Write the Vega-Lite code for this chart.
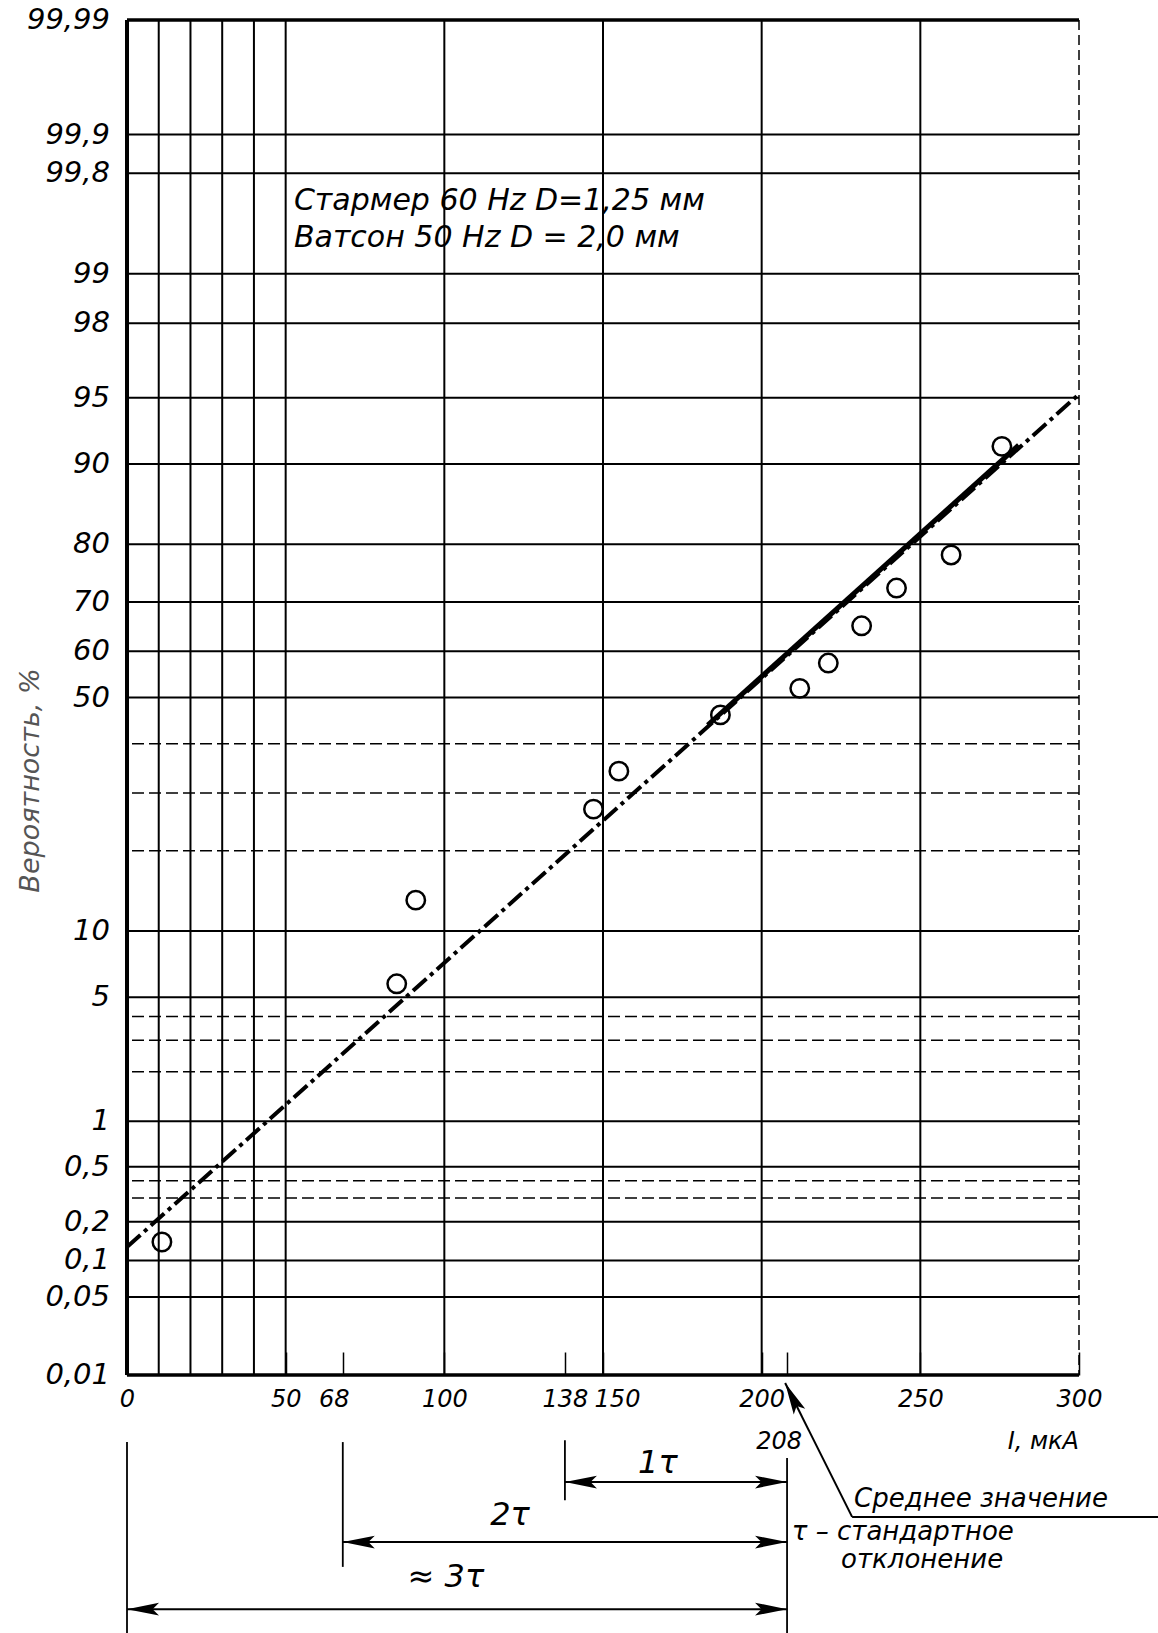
{
  "$schema": "https://vega.github.io/schema/vega-lite/v6.json",
  "width": 952,
  "height": 1355,
  "autosize": {"type": "none"},
  "padding": {"left": 127, "top": 20, "right": 79, "bottom": 258},
  "background": "white",
  "config": {
    "view": {"stroke": null},
    "font": "DejaVu Sans",
    "text": {"font": "DejaVu Sans", "fontStyle": "italic", "color": "black"}
  },
  "datasets": {
    "xGrid": [{"I": 0}, {"I": 10}, {"I": 20}, {"I": 30}, {"I": 40}, {"I": 50}, {"I": 100}, {"I": 150}, {"I": 200}, {"I": 250}, {"I": 300}],
    "yMajor": [
      {"p": 99.99, "label": "99,99"}, {"p": 99.9, "label": "99,9"}, {"p": 99.8, "label": "99,8"},
      {"p": 99, "label": "99"}, {"p": 98, "label": "98"}, {"p": 95, "label": "95"},
      {"p": 90, "label": "90"}, {"p": 80, "label": "80"}, {"p": 70, "label": "70"},
      {"p": 60, "label": "60"}, {"p": 50, "label": "50"}, {"p": 10, "label": "10"},
      {"p": 5, "label": "5"}, {"p": 1, "label": "1"}, {"p": 0.5, "label": "0,5"},
      {"p": 0.2, "label": "0,2"}, {"p": 0.1, "label": "0,1"}, {"p": 0.05, "label": "0,05"},
      {"p": 0.01, "label": "0,01"}
    ],
    "yMinor": [{"p": 40}, {"p": 30}, {"p": 20}, {"p": 4}, {"p": 3}, {"p": 2}, {"p": 0.4}, {"p": 0.3}],
    "points": [
      {"I": 11, "p": 0.14}, {"I": 85, "p": 5.8}, {"I": 91, "p": 13.3}, {"I": 147, "p": 27},
      {"I": 155, "p": 34.3}, {"I": 187, "p": 46.2}, {"I": 212, "p": 52}, {"I": 221, "p": 57.5},
      {"I": 231.5, "p": 65.3}, {"I": 242.5, "p": 72.6}, {"I": 259.7, "p": 78.3}, {"I": 275.7, "p": 91.6}
    ],
    "fit": [{"I": 0, "p": 0.128}, {"I": 300, "p": 95.2}],
    "fitSolid": [{"I": 183, "p": 44.0}, {"I": 281, "p": 91.7}],
    "legendText": [
      {"I": 52.6, "p": 99.68, "text": "Стармер 60 Hz D=1,25 мм"},
      {"I": 52.6, "p": 99.42, "text": "Ватсон  50 Hz D = 2,0 мм"}
    ],
    "ext": [
      {"I": 0, "r0": 2.08, "r1": 8}, {"I": 68, "r0": 2.08, "r1": 5.95},
      {"I": 138, "r0": 2.02, "r1": 3.88}, {"I": 208, "r0": 2.57, "r1": 8}
    ],
    "dims": [
      {"I0": 138, "I1": 208, "row": 3.32},
      {"I0": 68, "I1": 208, "row": 5.18},
      {"I0": 0, "I1": 208, "row": 7.26}
    ],
    "tauLabels": [
      {"I": 167.3, "row": 2.73, "text": "1τ"},
      {"I": 120.7, "row": 4.34, "text": "2τ"},
      {"I": 100.5, "row": 6.26, "text": "≈ 3τ"}
    ],
    "leader": [
      {"I": 207.4, "row": 0.25, "I2": 228.5, "row2": 4.4},
      {"I": 228.5, "row": 4.4, "I2": 325, "row2": 4.4}
    ],
    "leaderTip": [{"I": 207.4, "row": 0.25}],
    "mean": [{"I": 208, "row": 2.08, "text": "208"}],
    "unit": [{"I": 300, "row": 2.08, "text": "I, мкА"}],
    "notes": [
      {"I": 229.1, "row": 3.85, "text": "Среднее значение"},
      {"I": 209.5, "row": 4.86, "text": "τ – стандартное"},
      {"I": 225, "row": 5.74, "text": "отклонение"}
    ]
  },
  "resolve": {"scale": {"y": "independent"}, "axis": {"y": "independent"}},
  "layer": [
    {
      "layer": [
        {
          "data": {"name": "xGrid"},
          "transform": [{"filter": "datum.I > 0 && datum.I < 300"}],
          "mark": {"type": "rule", "stroke": "black", "strokeWidth": 2},
          "encoding": {
            "x": {"field": "I", "type": "quantitative", "scale": {"domain": [0, 300], "nice": false, "zero": false},
              "axis": {"values": [0, 50, 68, 100, 138, 150, 200, 208, 250, 300], "labelExpr": "datum.value == 208 ? '' : datum.label", "format": "d", "tickSize": -23, "tickWidth": 1.5, "tickColor": "black", "domain": false, "grid": false, "labelFont": "DejaVu Sans", "labelFontSize": 24, "labelFontStyle": "italic", "labelColor": "black", "labelPadding": 35, "labelOffset": {"condition": [{"test": "datum.value == 150", "value": 14}, {"test": "datum.value == 68", "value": -9}], "value": 0}, "labelOverlap": false, "labelBound": false, "labelFlush": false, "title": null}}
          }
        },
        {
          "data": {"name": "xGrid"},
          "transform": [{"filter": "datum.I == 0"}],
          "mark": {"type": "rule", "stroke": "black", "strokeWidth": 4},
          "encoding": {
            "x": {"field": "I", "type": "quantitative", "scale": {"domain": [0, 300], "nice": false, "zero": false},
              "axis": {"values": [0, 50, 68, 100, 138, 150, 200, 208, 250, 300], "labelExpr": "datum.value == 208 ? '' : datum.label", "format": "d", "tickSize": -23, "tickWidth": 1.5, "tickColor": "black", "domain": false, "grid": false, "labelFont": "DejaVu Sans", "labelFontSize": 24, "labelFontStyle": "italic", "labelColor": "black", "labelPadding": 35, "labelOffset": {"condition": [{"test": "datum.value == 150", "value": 14}, {"test": "datum.value == 68", "value": -9}], "value": 0}, "labelOverlap": false, "labelBound": false, "labelFlush": false, "title": null}}
          }
        },
        {
          "data": {"name": "xGrid"},
          "transform": [{"filter": "datum.I == 300"}],
          "mark": {"type": "rule", "stroke": "black", "strokeWidth": 1.5, "strokeDash": [10, 5]},
          "encoding": {
            "x": {"field": "I", "type": "quantitative", "scale": {"domain": [0, 300], "nice": false, "zero": false},
              "axis": {"values": [0, 50, 68, 100, 138, 150, 200, 208, 250, 300], "labelExpr": "datum.value == 208 ? '' : datum.label", "format": "d", "tickSize": -23, "tickWidth": 1.5, "tickColor": "black", "domain": false, "grid": false, "labelFont": "DejaVu Sans", "labelFontSize": 24, "labelFontStyle": "italic", "labelColor": "black", "labelPadding": 35, "labelOffset": {"condition": [{"test": "datum.value == 150", "value": 14}, {"test": "datum.value == 68", "value": -9}], "value": 0}, "labelOverlap": false, "labelBound": false, "labelFlush": false, "title": null}}
          }
        },
        {
          "data": {"name": "yMajor"},
          "transform": [{"calculate": "quantileNormal(datum.p / 100)", "as": "z"}],
          "mark": {"type": "rule", "stroke": "black", "strokeWidth": 2},
          "encoding": {
            "y": {"field": "z", "type": "quantitative", "scale": {"domain": [-3.719, 3.719], "nice": false, "zero": false},
              "axis": {"title": "Вероятность, %", "labels": false, "ticks": false, "domain": false, "grid": false, "titleFont": "DejaVu Sans", "titleFontSize": 27, "titleFontStyle": "italic", "titleFontWeight": "normal", "titleColor": "#555555", "titleX": -97, "titleY": 760, "titleBaseline": "middle", "titleAlign": "center", "titleAngle": -90}}
          }
        },
        {
          "data": {"name": "yMajor"},
          "transform": [
            {"filter": "datum.p == 99.99 || datum.p == 0.01"},
            {"calculate": "quantileNormal(datum.p / 100)", "as": "z"}
          ],
          "mark": {"type": "rule", "stroke": "black", "strokeWidth": 3.5},
          "encoding": {
            "y": {"field": "z", "type": "quantitative", "scale": {"domain": [-3.719, 3.719], "nice": false, "zero": false},
              "axis": {"title": "Вероятность, %", "labels": false, "ticks": false, "domain": false, "grid": false, "titleFont": "DejaVu Sans", "titleFontSize": 27, "titleFontStyle": "italic", "titleFontWeight": "normal", "titleColor": "#555555", "titleX": -97, "titleY": 760, "titleBaseline": "middle", "titleAlign": "center", "titleAngle": -90}}
          }
        },
        {
          "data": {"name": "yMinor"},
          "transform": [{"calculate": "quantileNormal(datum.p / 100)", "as": "z"}],
          "mark": {"type": "rule", "stroke": "black", "strokeWidth": 1.5, "strokeDash": [12, 5]},
          "encoding": {
            "y": {"field": "z", "type": "quantitative", "scale": {"domain": [-3.719, 3.719], "nice": false, "zero": false},
              "axis": {"title": "Вероятность, %", "labels": false, "ticks": false, "domain": false, "grid": false, "titleFont": "DejaVu Sans", "titleFontSize": 27, "titleFontStyle": "italic", "titleFontWeight": "normal", "titleColor": "#555555", "titleX": -97, "titleY": 760, "titleBaseline": "middle", "titleAlign": "center", "titleAngle": -90}}
          }
        },
        {
          "data": {"name": "yMajor"},
          "transform": [{"calculate": "quantileNormal(datum.p / 100)", "as": "z"}],
          "mark": {"type": "text", "align": "right", "baseline": "middle", "dx": -17, "fontSize": 29, "fontStyle": "italic"},
          "encoding": {
            "x": {"datum": 0, "type": "quantitative", "scale": {"domain": [0, 300], "nice": false, "zero": false},
              "axis": {"values": [0, 50, 68, 100, 138, 150, 200, 208, 250, 300], "labelExpr": "datum.value == 208 ? '' : datum.label", "format": "d", "tickSize": -23, "tickWidth": 1.5, "tickColor": "black", "domain": false, "grid": false, "labelFont": "DejaVu Sans", "labelFontSize": 24, "labelFontStyle": "italic", "labelColor": "black", "labelPadding": 35, "labelOffset": {"condition": [{"test": "datum.value == 150", "value": 14}, {"test": "datum.value == 68", "value": -9}], "value": 0}, "labelOverlap": false, "labelBound": false, "labelFlush": false, "title": null}},
            "y": {"field": "z", "type": "quantitative", "scale": {"domain": [-3.719, 3.719], "nice": false, "zero": false},
              "axis": {"title": "Вероятность, %", "labels": false, "ticks": false, "domain": false, "grid": false, "titleFont": "DejaVu Sans", "titleFontSize": 27, "titleFontStyle": "italic", "titleFontWeight": "normal", "titleColor": "#555555", "titleX": -97, "titleY": 760, "titleBaseline": "middle", "titleAlign": "center", "titleAngle": -90}},
            "text": {"field": "label"}
          }
        },
        {
          "data": {"name": "fit"},
          "transform": [{"calculate": "quantileNormal(datum.p / 100)", "as": "z"}],
          "mark": {"type": "line", "stroke": "black", "strokeWidth": 4, "strokeDash": [18, 5, 4, 5]},
          "encoding": {
            "x": {"field": "I", "type": "quantitative", "scale": {"domain": [0, 300], "nice": false, "zero": false},
              "axis": {"values": [0, 50, 68, 100, 138, 150, 200, 208, 250, 300], "labelExpr": "datum.value == 208 ? '' : datum.label", "format": "d", "tickSize": -23, "tickWidth": 1.5, "tickColor": "black", "domain": false, "grid": false, "labelFont": "DejaVu Sans", "labelFontSize": 24, "labelFontStyle": "italic", "labelColor": "black", "labelPadding": 35, "labelOffset": {"condition": [{"test": "datum.value == 150", "value": 14}, {"test": "datum.value == 68", "value": -9}], "value": 0}, "labelOverlap": false, "labelBound": false, "labelFlush": false, "title": null}},
            "y": {"field": "z", "type": "quantitative", "scale": {"domain": [-3.719, 3.719], "nice": false, "zero": false},
              "axis": {"title": "Вероятность, %", "labels": false, "ticks": false, "domain": false, "grid": false, "titleFont": "DejaVu Sans", "titleFontSize": 27, "titleFontStyle": "italic", "titleFontWeight": "normal", "titleColor": "#555555", "titleX": -97, "titleY": 760, "titleBaseline": "middle", "titleAlign": "center", "titleAngle": -90}}
          }
        },
        {
          "data": {"name": "fitSolid"},
          "transform": [{"calculate": "quantileNormal(datum.p / 100)", "as": "z"}],
          "mark": {"type": "line", "stroke": "black", "strokeWidth": 5},
          "encoding": {
            "x": {"field": "I", "type": "quantitative", "scale": {"domain": [0, 300], "nice": false, "zero": false},
              "axis": {"values": [0, 50, 68, 100, 138, 150, 200, 208, 250, 300], "labelExpr": "datum.value == 208 ? '' : datum.label", "format": "d", "tickSize": -23, "tickWidth": 1.5, "tickColor": "black", "domain": false, "grid": false, "labelFont": "DejaVu Sans", "labelFontSize": 24, "labelFontStyle": "italic", "labelColor": "black", "labelPadding": 35, "labelOffset": {"condition": [{"test": "datum.value == 150", "value": 14}, {"test": "datum.value == 68", "value": -9}], "value": 0}, "labelOverlap": false, "labelBound": false, "labelFlush": false, "title": null}},
            "y": {"field": "z", "type": "quantitative", "scale": {"domain": [-3.719, 3.719], "nice": false, "zero": false},
              "axis": {"title": "Вероятность, %", "labels": false, "ticks": false, "domain": false, "grid": false, "titleFont": "DejaVu Sans", "titleFontSize": 27, "titleFontStyle": "italic", "titleFontWeight": "normal", "titleColor": "#555555", "titleX": -97, "titleY": 760, "titleBaseline": "middle", "titleAlign": "center", "titleAngle": -90}}
          }
        },
        {
          "data": {"name": "points"},
          "transform": [{"calculate": "quantileNormal(datum.p / 100)", "as": "z"}],
          "mark": {"type": "point", "shape": "circle", "filled": false, "stroke": "black", "strokeWidth": 2.5, "size": 340, "opacity": 1},
          "encoding": {
            "x": {"field": "I", "type": "quantitative", "scale": {"domain": [0, 300], "nice": false, "zero": false},
              "axis": {"values": [0, 50, 68, 100, 138, 150, 200, 208, 250, 300], "labelExpr": "datum.value == 208 ? '' : datum.label", "format": "d", "tickSize": -23, "tickWidth": 1.5, "tickColor": "black", "domain": false, "grid": false, "labelFont": "DejaVu Sans", "labelFontSize": 24, "labelFontStyle": "italic", "labelColor": "black", "labelPadding": 35, "labelOffset": {"condition": [{"test": "datum.value == 150", "value": 14}, {"test": "datum.value == 68", "value": -9}], "value": 0}, "labelOverlap": false, "labelBound": false, "labelFlush": false, "title": null}},
            "y": {"field": "z", "type": "quantitative", "scale": {"domain": [-3.719, 3.719], "nice": false, "zero": false},
              "axis": {"title": "Вероятность, %", "labels": false, "ticks": false, "domain": false, "grid": false, "titleFont": "DejaVu Sans", "titleFontSize": 27, "titleFontStyle": "italic", "titleFontWeight": "normal", "titleColor": "#555555", "titleX": -97, "titleY": 760, "titleBaseline": "middle", "titleAlign": "center", "titleAngle": -90}}
          }
        },
        {
          "data": {"name": "legendText"},
          "transform": [{"calculate": "quantileNormal(datum.p / 100)", "as": "z"}],
          "mark": {"type": "text", "align": "left", "baseline": "middle", "fontSize": 30, "fontStyle": "italic"},
          "encoding": {
            "x": {"field": "I", "type": "quantitative", "scale": {"domain": [0, 300], "nice": false, "zero": false},
              "axis": {"values": [0, 50, 68, 100, 138, 150, 200, 208, 250, 300], "labelExpr": "datum.value == 208 ? '' : datum.label", "format": "d", "tickSize": -23, "tickWidth": 1.5, "tickColor": "black", "domain": false, "grid": false, "labelFont": "DejaVu Sans", "labelFontSize": 24, "labelFontStyle": "italic", "labelColor": "black", "labelPadding": 35, "labelOffset": {"condition": [{"test": "datum.value == 150", "value": 14}, {"test": "datum.value == 68", "value": -9}], "value": 0}, "labelOverlap": false, "labelBound": false, "labelFlush": false, "title": null}},
            "y": {"field": "z", "type": "quantitative", "scale": {"domain": [-3.719, 3.719], "nice": false, "zero": false},
              "axis": {"title": "Вероятность, %", "labels": false, "ticks": false, "domain": false, "grid": false, "titleFont": "DejaVu Sans", "titleFontSize": 27, "titleFontStyle": "italic", "titleFontWeight": "normal", "titleColor": "#555555", "titleX": -97, "titleY": 760, "titleBaseline": "middle", "titleAlign": "center", "titleAngle": -90}},
            "text": {"field": "text"}
          }
        }
      ]
    },
    {
      "layer": [
        {
          "data": {"name": "ext"},
          "mark": {"type": "rule", "stroke": "black", "strokeWidth": 1.8},
          "encoding": {
            "x": {"field": "I", "type": "quantitative", "scale": {"domain": [0, 300], "nice": false, "zero": false},
              "axis": {"values": [0, 50, 68, 100, 138, 150, 200, 208, 250, 300], "labelExpr": "datum.value == 208 ? '' : datum.label", "format": "d", "tickSize": -23, "tickWidth": 1.5, "tickColor": "black", "domain": false, "grid": false, "labelFont": "DejaVu Sans", "labelFontSize": 24, "labelFontStyle": "italic", "labelColor": "black", "labelPadding": 35, "labelOffset": {"condition": [{"test": "datum.value == 150", "value": 14}, {"test": "datum.value == 68", "value": -9}], "value": 0}, "labelOverlap": false, "labelBound": false, "labelFlush": false, "title": null}},
            "y": {"field": "r0", "type": "quantitative", "scale": {"domain": [0, 8], "range": [1355, 1613], "nice": false, "zero": false}, "axis": null},
            "y2": {"field": "r1"}
          }
        },
        {
          "data": {"name": "dims"},
          "mark": {"type": "rule", "stroke": "black", "strokeWidth": 2},
          "encoding": {
            "x": {"field": "I0", "type": "quantitative", "scale": {"domain": [0, 300], "nice": false, "zero": false},
              "axis": {"values": [0, 50, 68, 100, 138, 150, 200, 208, 250, 300], "labelExpr": "datum.value == 208 ? '' : datum.label", "format": "d", "tickSize": -23, "tickWidth": 1.5, "tickColor": "black", "domain": false, "grid": false, "labelFont": "DejaVu Sans", "labelFontSize": 24, "labelFontStyle": "italic", "labelColor": "black", "labelPadding": 35, "labelOffset": {"condition": [{"test": "datum.value == 150", "value": 14}, {"test": "datum.value == 68", "value": -9}], "value": 0}, "labelOverlap": false, "labelBound": false, "labelFlush": false, "title": null}},
            "x2": {"field": "I1"},
            "y": {"field": "row", "type": "quantitative", "scale": {"domain": [0, 8], "range": [1355, 1613], "nice": false, "zero": false}, "axis": null}
          }
        },
        {
          "data": {"name": "dims"},
          "mark": {"type": "point", "shape": "M0,0L4,-0.8L3.2,0L4,0.8Z", "filled": true, "color": "black", "size": 256, "opacity": 1},
          "encoding": {
            "x": {"field": "I0", "type": "quantitative", "scale": {"domain": [0, 300], "nice": false, "zero": false},
              "axis": {"values": [0, 50, 68, 100, 138, 150, 200, 208, 250, 300], "labelExpr": "datum.value == 208 ? '' : datum.label", "format": "d", "tickSize": -23, "tickWidth": 1.5, "tickColor": "black", "domain": false, "grid": false, "labelFont": "DejaVu Sans", "labelFontSize": 24, "labelFontStyle": "italic", "labelColor": "black", "labelPadding": 35, "labelOffset": {"condition": [{"test": "datum.value == 150", "value": 14}, {"test": "datum.value == 68", "value": -9}], "value": 0}, "labelOverlap": false, "labelBound": false, "labelFlush": false, "title": null}},
            "y": {"field": "row", "type": "quantitative", "scale": {"domain": [0, 8], "range": [1355, 1613], "nice": false, "zero": false}, "axis": null}
          }
        },
        {
          "data": {"name": "dims"},
          "mark": {"type": "point", "shape": "M0,0L-4,-0.8L-3.2,0L-4,0.8Z", "filled": true, "color": "black", "size": 256, "opacity": 1},
          "encoding": {
            "x": {"field": "I1", "type": "quantitative", "scale": {"domain": [0, 300], "nice": false, "zero": false},
              "axis": {"values": [0, 50, 68, 100, 138, 150, 200, 208, 250, 300], "labelExpr": "datum.value == 208 ? '' : datum.label", "format": "d", "tickSize": -23, "tickWidth": 1.5, "tickColor": "black", "domain": false, "grid": false, "labelFont": "DejaVu Sans", "labelFontSize": 24, "labelFontStyle": "italic", "labelColor": "black", "labelPadding": 35, "labelOffset": {"condition": [{"test": "datum.value == 150", "value": 14}, {"test": "datum.value == 68", "value": -9}], "value": 0}, "labelOverlap": false, "labelBound": false, "labelFlush": false, "title": null}},
            "y": {"field": "row", "type": "quantitative", "scale": {"domain": [0, 8], "range": [1355, 1613], "nice": false, "zero": false}, "axis": null}
          }
        },
        {
          "data": {"name": "leader"},
          "mark": {"type": "rule", "stroke": "black", "strokeWidth": 2},
          "encoding": {
            "x": {"field": "I", "type": "quantitative", "scale": {"domain": [0, 300], "nice": false, "zero": false},
              "axis": {"values": [0, 50, 68, 100, 138, 150, 200, 208, 250, 300], "labelExpr": "datum.value == 208 ? '' : datum.label", "format": "d", "tickSize": -23, "tickWidth": 1.5, "tickColor": "black", "domain": false, "grid": false, "labelFont": "DejaVu Sans", "labelFontSize": 24, "labelFontStyle": "italic", "labelColor": "black", "labelPadding": 35, "labelOffset": {"condition": [{"test": "datum.value == 150", "value": 14}, {"test": "datum.value == 68", "value": -9}], "value": 0}, "labelOverlap": false, "labelBound": false, "labelFlush": false, "title": null}},
            "x2": {"field": "I2"},
            "y": {"field": "row", "type": "quantitative", "scale": {"domain": [0, 8], "range": [1355, 1613], "nice": false, "zero": false}, "axis": null},
            "y2": {"field": "row2"}
          }
        },
        {
          "data": {"name": "leaderTip"},
          "mark": {"type": "point", "shape": "M0,0L-4,-0.8L-3.2,0L-4,0.8Z", "filled": true, "color": "black", "size": 256, "angle": 243.4, "opacity": 1},
          "encoding": {
            "x": {"field": "I", "type": "quantitative", "scale": {"domain": [0, 300], "nice": false, "zero": false},
              "axis": {"values": [0, 50, 68, 100, 138, 150, 200, 208, 250, 300], "labelExpr": "datum.value == 208 ? '' : datum.label", "format": "d", "tickSize": -23, "tickWidth": 1.5, "tickColor": "black", "domain": false, "grid": false, "labelFont": "DejaVu Sans", "labelFontSize": 24, "labelFontStyle": "italic", "labelColor": "black", "labelPadding": 35, "labelOffset": {"condition": [{"test": "datum.value == 150", "value": 14}, {"test": "datum.value == 68", "value": -9}], "value": 0}, "labelOverlap": false, "labelBound": false, "labelFlush": false, "title": null}},
            "y": {"field": "row", "type": "quantitative", "scale": {"domain": [0, 8], "range": [1355, 1613], "nice": false, "zero": false}, "axis": null}
          }
        },
        {
          "data": {"name": "tauLabels"},
          "mark": {"type": "text", "align": "center", "baseline": "middle", "fontSize": 32, "fontStyle": "italic"},
          "encoding": {
            "x": {"field": "I", "type": "quantitative", "scale": {"domain": [0, 300], "nice": false, "zero": false},
              "axis": {"values": [0, 50, 68, 100, 138, 150, 200, 208, 250, 300], "labelExpr": "datum.value == 208 ? '' : datum.label", "format": "d", "tickSize": -23, "tickWidth": 1.5, "tickColor": "black", "domain": false, "grid": false, "labelFont": "DejaVu Sans", "labelFontSize": 24, "labelFontStyle": "italic", "labelColor": "black", "labelPadding": 35, "labelOffset": {"condition": [{"test": "datum.value == 150", "value": 14}, {"test": "datum.value == 68", "value": -9}], "value": 0}, "labelOverlap": false, "labelBound": false, "labelFlush": false, "title": null}},
            "y": {"field": "row", "type": "quantitative", "scale": {"domain": [0, 8], "range": [1355, 1613], "nice": false, "zero": false}, "axis": null},
            "text": {"field": "text"}
          }
        },
        {
          "data": {"name": "mean"},
          "mark": {"type": "text", "align": "center", "baseline": "middle", "dx": -8, "fontSize": 24, "fontStyle": "italic"},
          "encoding": {
            "x": {"field": "I", "type": "quantitative", "scale": {"domain": [0, 300], "nice": false, "zero": false},
              "axis": {"values": [0, 50, 68, 100, 138, 150, 200, 208, 250, 300], "labelExpr": "datum.value == 208 ? '' : datum.label", "format": "d", "tickSize": -23, "tickWidth": 1.5, "tickColor": "black", "domain": false, "grid": false, "labelFont": "DejaVu Sans", "labelFontSize": 24, "labelFontStyle": "italic", "labelColor": "black", "labelPadding": 35, "labelOffset": {"condition": [{"test": "datum.value == 150", "value": 14}, {"test": "datum.value == 68", "value": -9}], "value": 0}, "labelOverlap": false, "labelBound": false, "labelFlush": false, "title": null}},
            "y": {"field": "row", "type": "quantitative", "scale": {"domain": [0, 8], "range": [1355, 1613], "nice": false, "zero": false}, "axis": null},
            "text": {"field": "text"}
          }
        },
        {
          "data": {"name": "unit"},
          "mark": {"type": "text", "align": "right", "baseline": "middle", "fontSize": 24, "fontStyle": "italic"},
          "encoding": {
            "x": {"field": "I", "type": "quantitative", "scale": {"domain": [0, 300], "nice": false, "zero": false},
              "axis": {"values": [0, 50, 68, 100, 138, 150, 200, 208, 250, 300], "labelExpr": "datum.value == 208 ? '' : datum.label", "format": "d", "tickSize": -23, "tickWidth": 1.5, "tickColor": "black", "domain": false, "grid": false, "labelFont": "DejaVu Sans", "labelFontSize": 24, "labelFontStyle": "italic", "labelColor": "black", "labelPadding": 35, "labelOffset": {"condition": [{"test": "datum.value == 150", "value": 14}, {"test": "datum.value == 68", "value": -9}], "value": 0}, "labelOverlap": false, "labelBound": false, "labelFlush": false, "title": null}},
            "y": {"field": "row", "type": "quantitative", "scale": {"domain": [0, 8], "range": [1355, 1613], "nice": false, "zero": false}, "axis": null},
            "text": {"field": "text"}
          }
        },
        {
          "data": {"name": "notes"},
          "mark": {"type": "text", "align": "left", "baseline": "middle", "fontSize": 26, "fontStyle": "italic"},
          "encoding": {
            "x": {"field": "I", "type": "quantitative", "scale": {"domain": [0, 300], "nice": false, "zero": false},
              "axis": {"values": [0, 50, 68, 100, 138, 150, 200, 208, 250, 300], "labelExpr": "datum.value == 208 ? '' : datum.label", "format": "d", "tickSize": -23, "tickWidth": 1.5, "tickColor": "black", "domain": false, "grid": false, "labelFont": "DejaVu Sans", "labelFontSize": 24, "labelFontStyle": "italic", "labelColor": "black", "labelPadding": 35, "labelOffset": {"condition": [{"test": "datum.value == 150", "value": 14}, {"test": "datum.value == 68", "value": -9}], "value": 0}, "labelOverlap": false, "labelBound": false, "labelFlush": false, "title": null}},
            "y": {"field": "row", "type": "quantitative", "scale": {"domain": [0, 8], "range": [1355, 1613], "nice": false, "zero": false}, "axis": null},
            "text": {"field": "text"}
          }
        }
      ]
    }
  ]
}
